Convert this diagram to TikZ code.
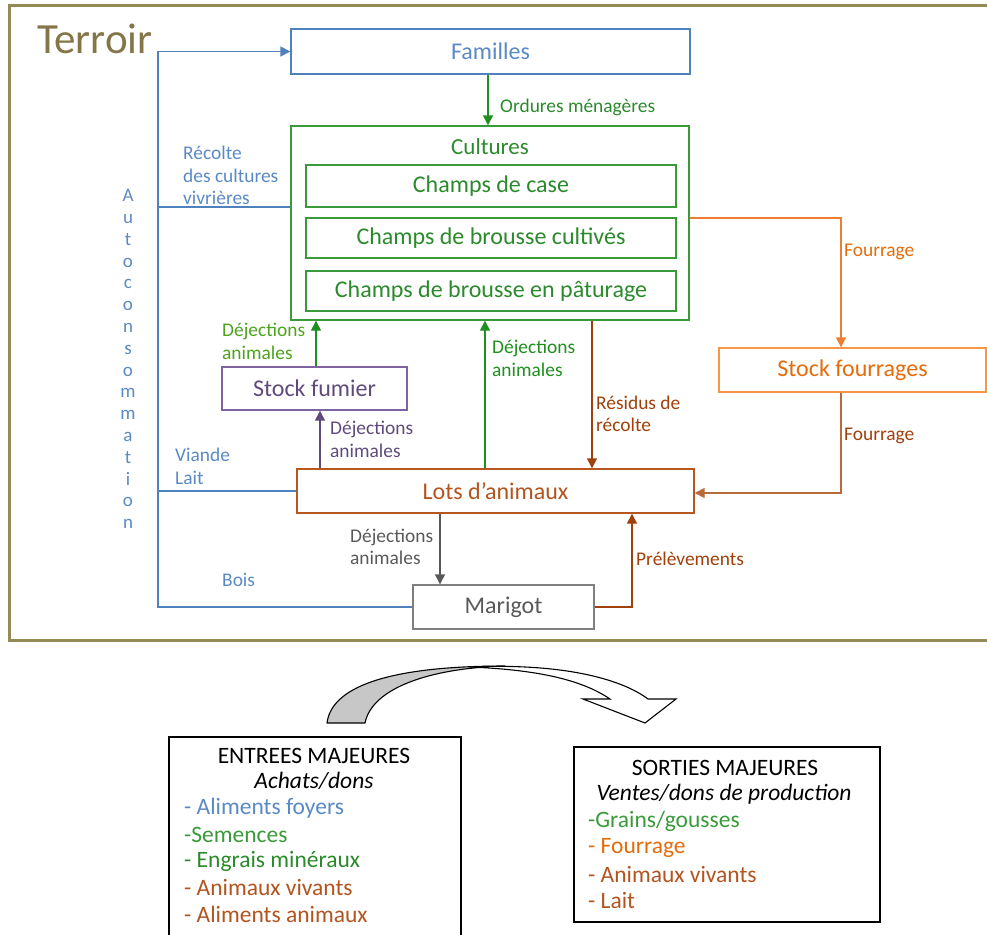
\documentclass[tikz,border=0pt]{standalone}
\usepackage{fontspec}
\setmainfont{Carlito}
\usetikzlibrary{arrows.meta}
\definecolor{cOlive}{HTML}{948A54}
\definecolor{cOliveT}{HTML}{857649}
\definecolor{cBlue}{HTML}{4F81BD}
\definecolor{cBlueT}{HTML}{5A8AC6}
\definecolor{cGreenB}{HTML}{3A9A3A}
\definecolor{cGreenT}{HTML}{2B8A2B}
\definecolor{cGreenA}{HTML}{1F8F1F}
\definecolor{cLime}{HTML}{4EA31E}
\definecolor{cPurpB}{HTML}{8064A2}
\definecolor{cPurpT}{HTML}{604A7B}
\definecolor{cOrB}{HTML}{F79646}
\definecolor{cOrT}{HTML}{E46C0A}
\definecolor{cOrA}{HTML}{ED7D31}
\definecolor{cBrB}{HTML}{B8561F}
\definecolor{cBrT}{HTML}{B3541E}
\definecolor{cBrA}{HTML}{A0400A}
\definecolor{cBrL}{HTML}{B86A38}
\definecolor{cGrB}{HTML}{7F7F7F}
\definecolor{cGrT}{HTML}{595959}
\newcommand{\bigf}{\fontsize{24}{28}\selectfont}
\newcommand{\labf}{\fontsize{19.4}{22.5}\selectfont}
\newcommand{\botf}{\fontsize{23.5}{26}\selectfont}
\begin{document}
\begin{tikzpicture}[x=1pt,y=-1pt,
  box/.style={draw, line width=1.4pt, inner sep=0pt, font=\bigf},
  lab/.style={inner sep=0pt, anchor=west, align=left, font=\labf},
  tip/.style={-{Triangle[length=10pt,width=10pt]}},
  con/.style={line width=1.4pt}]
\useasboundingbox (0,0) rectangle (987,934);
\clip (0,0) rectangle (987,934);

% Terroir frame
\draw[cOlive, line width=3pt] (9,6) rectangle (1000,640);
\node[inner sep=0pt, anchor=west, text=cOliveT, font=\fontsize{43}{47}\selectfont] (terroir) at (37,39) {Terroir};

% helper coordinates
\coordinate (X158) at (158,0);
\coordinate (X316) at (316,0);
\coordinate (X320) at (320,0);
\coordinate (X440) at (440,0);
\coordinate (X485) at (485,0);
\coordinate (X488) at (488,0);
\coordinate (X592) at (592,0);
\coordinate (X632) at (632,0);
\coordinate (X841) at (841,0);
\coordinate (Y207) at (0,207);
\coordinate (Y218) at (0,218);
\coordinate (Y493) at (0,493);

% boxes
\node[box, draw=cBlue, text=cBlueT, minimum width=399pt, minimum height=45pt] (fam) at (490.5,51.5) {Familles};
\node[box, draw=cGreenB, minimum width=398pt, minimum height=194pt] (cult) at (490,223) {};
\node[inner sep=0pt, text=cGreenT, font=\fontsize{23}{26}\selectfont] (cultt) at (490,147) {Cultures};
\node[box, draw=cGreenB, text=cGreenT, minimum width=370pt, minimum height=42pt] (case) at (491,186) {Champs de case};
\node[box, draw=cGreenB, text=cGreenT, minimum width=370pt, minimum height=40pt] (cultiv) at (491,238) {Champs de brousse cultivés};
\node[box, draw=cGreenB, text=cGreenT, minimum width=370pt, minimum height=40pt] (patur) at (491,291) {Champs de brousse en pâturage};
\node[box, draw=cPurpB, text=cPurpT, minimum width=185pt, minimum height=43pt] (fum) at (314.5,388.5) {Stock fumier};
\node[box, draw=cOrB, text=cOrT, minimum width=267pt, minimum height=44pt] (four) at (852.5,370) {Stock fourrages};
\node[box, draw=cBrB, text=cBrT, minimum width=397pt, minimum height=44pt] (lots) at (495.5,491) {Lots d’animaux};
\node[box, draw=cGrB, text=cGrT, minimum width=181pt, minimum height=44pt] (mar) at (503.5,607) {Marigot};

% Autoconsommation
\node[inner sep=0pt, align=center, text=cBlueT, font=\fontsize{19}{21.8}\selectfont] (auto) at (128,359)
  {A\\u\\t\\o\\c\\o\\n\\s\\o\\m\\m\\a\\t\\i\\o\\n};

% blue connectors
\draw[con, cBlue, tip] (mar.west) -- (X158 |- mar.west) -- (X158 |- fam.west) -- (fam.west);
\draw[con, cBlue] (cult.west |- Y207) -- (X158 |- Y207);
\draw[con, cBlue] (lots.west) -- (X158 |- lots.west);

% green
\draw[con, cGreenA, tip] (fam.south -| X488) -- (cult.north -| X488);
\draw[con, cGreenA, tip] (fum.north -| X316) -- (cult.south -| X316);
\draw[con, cGreenA, tip] (lots.north -| X485) -- (cult.south -| X485);
% purple
\draw[con, cPurpT, tip] (lots.north -| X320) -- (fum.south -| X320);
% brown
\draw[con, cBrA, tip] (cult.south -| X592) -- (lots.north -| X592);
\draw[con, cBrA, tip] (mar.east) -- (X632 |- mar.east) -- (lots.south -| X632);
\draw[con, cBrL, tip] (four.south -| X841) -- (X841 |- Y493) -- (lots.east |- Y493);
% orange
\draw[con, cOrA, tip] (cult.east |- Y218) -- (X841 |- Y218) -- (four.north -| X841);
% gray
\draw[con, cGrT, tip] (lots.south -| X440) -- (mar.north -| X440);

% labels
\node[lab, text=cGreenT] (lord) at (500,107) {Ordures ménagères};
\node[lab, text=cBlueT] (lrec) at (183,175.5) {Récolte\\des cultures\\vivrières};
\node[lab, text=cOrT] (lfour1) at (844,252) {Fourrage};
\node[lab, text=cLime] (ldej1) at (222,341.5) {Déjections\\animales};
\node[lab, text=cGreenA] (ldej2) at (492,358.5) {Déjections\\animales};
\node[lab, text=cPurpT] (ldej3) at (330,439.5) {Déjections\\animales};
\node[lab, text=cBrA] (lres) at (596,414) {Résidus de\\récolte};
\node[lab, text=cBrA] (lfour2) at (844,436) {Fourrage};
\node[lab, text=cBlueT] (lvia) at (175,466.5) {Viande\\Lait};
\node[lab, text=cGrT] (ldej4) at (350,547) {Déjections\\animales};
\node[lab, text=cBlueT] (lbois) at (222,580) {Bois};
\node[lab, text=cBrA] (lpre) at (636,559) {Prélèvements};

% curved block arrow
\draw[line width=1.1pt, fill=black!22, line join=round]
  (327,723) .. controls (332,683) and (400,666) .. (505,666)
  .. controls (430,668) and (372,688) .. (365,723) -- cycle;
\draw[line width=1.1pt, fill=white, line join=miter]
  (470,667) .. controls (560,663) and (620,678) .. (648,699)
  -- (676,699) -- (645,723) -- (583,699) -- (610,699)
  .. controls (585,682) and (545,670) .. (470,667);

% bottom boxes
\draw[line width=1.4pt] (169,737) rectangle (461,950);
\draw[line width=1.4pt] (574,747) rectangle (880,922);
\node[inner sep=0pt, font=\botf] (ent) at (314,756) {ENTREES MAJEURES};
\node[inner sep=0pt, font=\botf\itshape] (ach) at (314,781) {Achats/dons};
\node[inner sep=0pt, anchor=west, font=\botf, text=cBlueT] (e1) at (184,808) {- Aliments foyers};
\node[inner sep=0pt, anchor=west, font=\botf, text=cGreenB] (e2) at (184,835) {-Semences};
\node[inner sep=0pt, anchor=west, font=\botf, text=cGreenT] (e3) at (184,861) {- Engrais minéraux};
\node[inner sep=0pt, anchor=west, font=\botf, text=cBrT] (e4) at (184,887) {- Animaux vivants};
\node[inner sep=0pt, anchor=west, font=\botf, text=cBrT] (e5) at (184,914) {- Aliments animaux};

\node[inner sep=0pt, font=\botf] (sor) at (725,768) {SORTIES MAJEURES};
\node[inner sep=0pt, font=\botf\itshape] (ven) at (724,794) {Ventes/dons de production};
\node[inner sep=0pt, anchor=west, font=\botf, text=cGreenB] (s1) at (588,821) {-Grains/gousses};
\node[inner sep=0pt, anchor=west, font=\botf, text=cOrT] (s2) at (588,848) {- Fourrage};
\node[inner sep=0pt, anchor=west, font=\botf, text=cBrT] (s3) at (588,874) {- Animaux vivants};
\node[inner sep=0pt, anchor=west, font=\botf, text=cBrT] (s4) at (588,900) {- Lait};
\end{tikzpicture}
\end{document}
